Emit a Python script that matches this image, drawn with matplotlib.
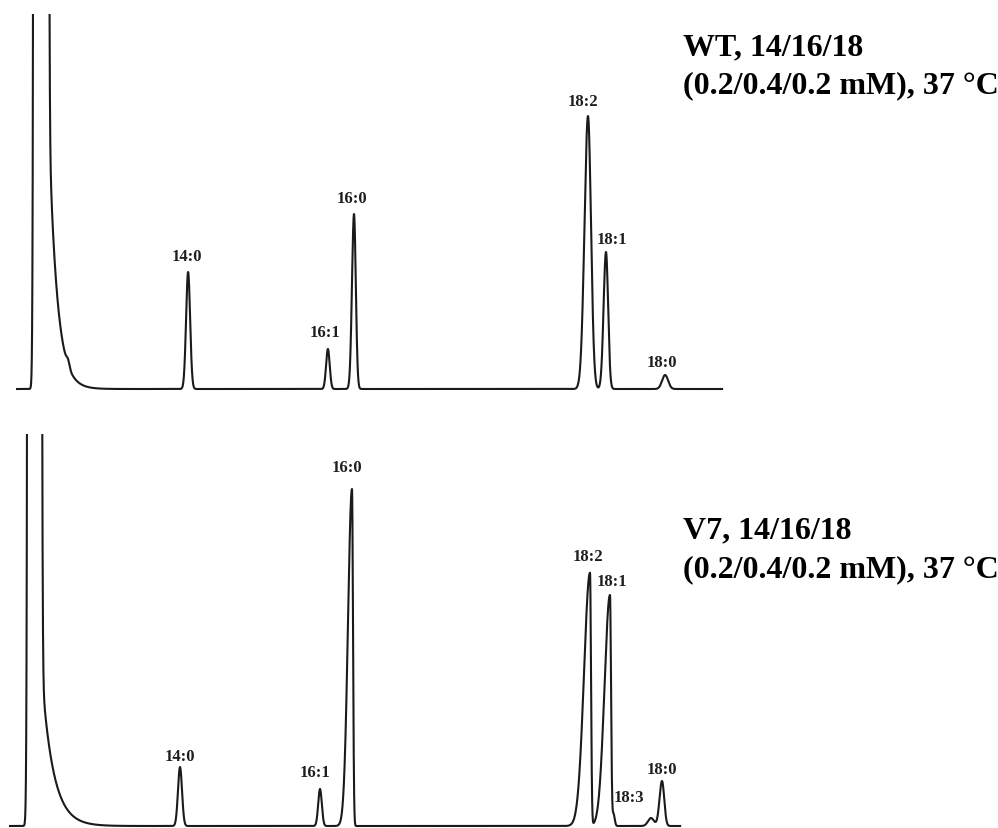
import numpy as np
import matplotlib
matplotlib.use("Agg")
import matplotlib.pyplot as plt

# GC-FAME traces, time in min, response in detector units above baseline

# WT, 14/16/18 feed
wt_names = ["14:0", "16:1", "16:0", "18:2", "18:1", "18:0"]
wt_rt = [6.27, 10.93, 11.80, 19.60, 20.20, 22.17]
wt_height = [117, 40, 175, 273, 137, 14]
wt_wl = [0.067, 0.060, 0.067, 0.117, 0.080, 0.100]
wt_wr = [0.067, 0.060, 0.060, 0.100, 0.070, 0.100]
wt_label_dx = [-0.03, -0.10, -0.07, -0.17, 0.20, -0.10]
wt_label_dy = [16, 17, 16, 15, 13, 13]
wt_solvent = [1.367, 1.12e6, 0.067, 703, 0.267]   # rt, height, width, tail height, tail tau
wt_minor_rt = [2.267]
wt_minor_height = [6]
wt_minor_w = [0.05]
wt_run = [0.567, 24.07]

# V7, 14/16/18 feed
v7_names = ["14:0", "16:1", "16:0", "18:2", "18:1", "18:3", "18:0"]
v7_rt = [6.00, 10.667, 11.733, 19.667, 20.333, 20.45, 22.067]
v7_height = [59, 37, 337, 253, 231, 12, 45]
v7_wl = [0.067, 0.060, 0.133, 0.200, 0.183, 0.030, 0.083]
v7_wr = [0.067, 0.060, 0.033, 0.033, 0.035, 0.040, 0.073]
v7_label_dx = [0.0, -0.167, -0.167, -0.067, 0.067, 0.52, 0.0]
v7_label_dy = [11, 17, 22, 17, 14, 17, 12]
v7_solvent = [1.15, 4.42e5, 0.067, 285, 0.383]
v7_minor_rt = [21.70]
v7_minor_height = [8]
v7_minor_w = [0.10]
v7_run = [0.333, 22.67]


def peak(t, rt, h, wl, wr):
    w = np.where(t < rt, wl, wr)
    return h * np.exp(-0.5 * ((t - rt) / w) ** 2)


def trace(run, solvent, rt, height, wl, wr, mrt, mh, mw):
    t = np.arange(run[0], run[1], 0.002)
    s_rt, s_h, s_w, tail_h, tau = solvent
    y = peak(t, s_rt, s_h, s_w, s_w)
    y += np.where(t >= s_rt, tail_h * np.exp(-(t - s_rt) / tau), 0.0)
    for r, h, a, b in zip(rt, height, wl, wr):
        y += peak(t, r, h, a, b)
    for r, h, w in zip(mrt, mh, mw):
        y += peak(t, r, h, w, w)
    return t, y


W, H = 998, 829
fig = plt.figure(figsize=(W / 100, H / 100), dpi=100)
fig.patch.set_facecolor("white")

# axes boxes in pixel rows (top, bottom)
ax_top = fig.add_axes([0, (H - 410) / H, 1, 395 / H])
ax_bot = fig.add_axes([0, 0, 1, 394 / H])

label_font = dict(family="Liberation Serif", weight="bold", size=12, color="#1e1e1e")
title_font = dict(family="Liberation Serif", weight="bold", size=23, color="black")

panels = [
    (ax_top, (-20, 375), wt_run, wt_solvent, wt_names, wt_rt, wt_height, wt_wl, wt_wr,
     wt_label_dx, wt_label_dy, wt_minor_rt, wt_minor_height, wt_minor_w),
    (ax_bot, (-2, 392), v7_run, v7_solvent, v7_names, v7_rt, v7_height, v7_wl, v7_wr,
     v7_label_dx, v7_label_dy, v7_minor_rt, v7_minor_height, v7_minor_w),
]

for (ax, ylim, run, solvent, names, rt, height, wl, wr,
     ldx, ldy, mrt, mh, mw) in panels:
    t, y = trace(run, solvent, rt, height, wl, wr, mrt, mh, mw)
    ax.plot(t, y, color="#1a1a1a", lw=1.5, solid_joinstyle="round")
    for name, r, h, dx, dy in zip(names, rt, height, ldx, ldy):
        ax.text(r + dx, h + dy, name, ha="center", va="center", **label_font)
    ax.set_xlim(0, W / 30)
    ax.set_ylim(*ylim)
    ax.axis("off")

fig.text(683 / W, 1 - 55 / H, "WT, 14/16/18", ha="left", va="baseline", **title_font)
fig.text(683 / W, 1 - 93 / H, "(0.2/0.4/0.2 mM), 37 °C", ha="left", va="baseline", **title_font)
fig.text(683 / W, 1 - 538 / H, "V7, 14/16/18", ha="left", va="baseline", **title_font)
fig.text(683 / W, 1 - 577 / H, "(0.2/0.4/0.2 mM), 37 °C", ha="left", va="baseline", **title_font)

fig.savefig("out.png", dpi=100, facecolor="white")
